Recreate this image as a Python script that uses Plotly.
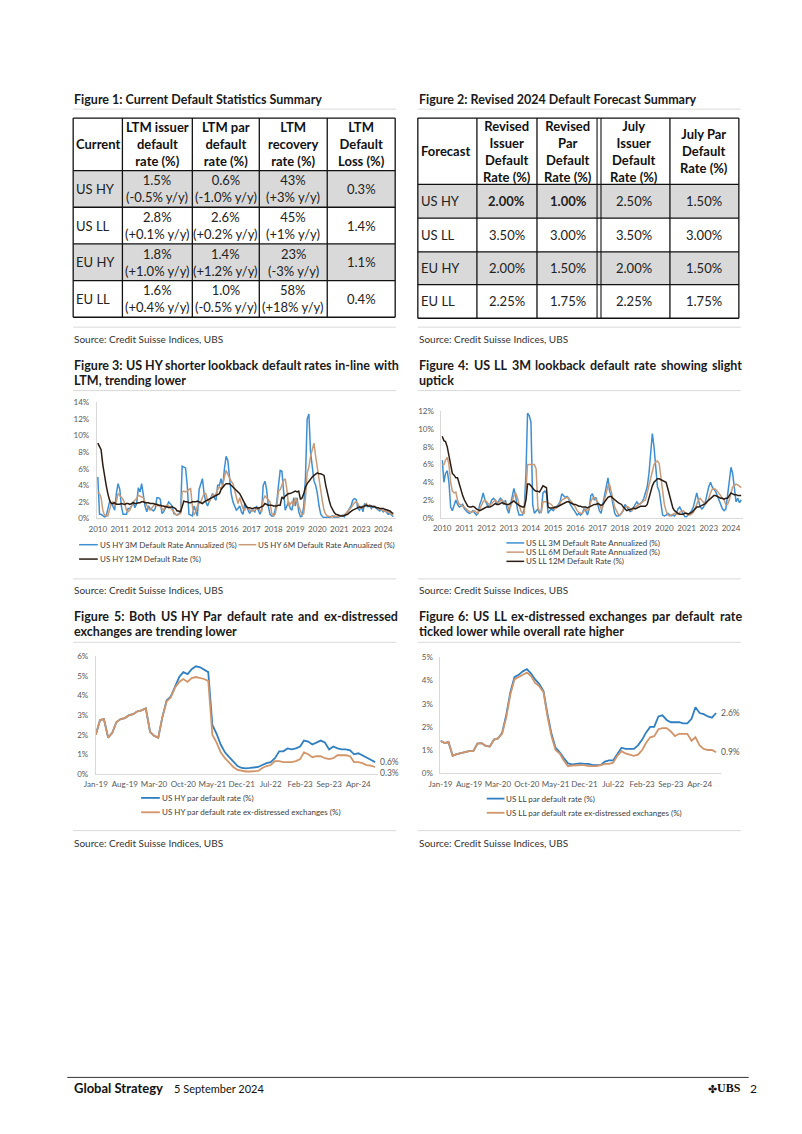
import pandas as pd
import plotly.graph_objects as go

PAGE_W, PAGE_H = 802, 1134
OFF = 8
W, H = PAGE_W - 2 * OFF, PAGE_H - 2 * OFF


def X(px):
    return (px - OFF) / W


def Y(py):
    return 1 - (py - OFF) / H


FONT = "Lato"
DARK = "#1a1a1a"
GREY_TXT = "#595959"
SEP = "#d9d9d9"

# ---------------- Table 1 data ----------------
t1_title = "Figure 1: Current Default Statistics Summary"
t1_cols = ["Current", "LTM issuer<br>default<br>rate (%)", "LTM par<br>default<br>rate (%)",
           "LTM<br>recovery<br>rate (%)", "LTM<br>Default<br>Loss (%)"]
t1_rows = ["US HY", "US LL", "EU HY", "EU LL"]
t1_issuer = ["1.5%", "2.8%", "1.8%", "1.6%"]
t1_issuer_yy = ["-0.5%", "+0.1%", "+1.0%", "+0.4%"]
t1_par = ["0.6%", "2.6%", "1.4%", "1.0%"]
t1_par_yy = ["-1.0%", "+0.2%", "+1.2%", "-0.5%"]
t1_recovery = ["43%", "45%", "23%", "58%"]
t1_recovery_yy = ["+3%", "+1%", "-3%", "+18%"]
t1_loss = ["0.3%", "1.4%", "1.1%", "0.4%"]

# ---------------- Table 2 data ----------------
t2_title = "Figure 2: Revised 2024 Default Forecast Summary"
t2_cols = ["Forecast", "Revised<br>Issuer<br>Default<br>Rate (%)", "Revised<br>Par<br>Default<br>Rate (%)",
           "July<br>Issuer<br>Default<br>Rate (%)", "July Par<br>Default<br>Rate (%)"]
t2_rows = ["US HY", "US LL", "EU HY", "EU LL"]
t2_rev_issuer = ["2.00%", "3.50%", "2.00%", "2.25%"]
t2_rev_par = ["1.00%", "3.00%", "1.50%", "1.75%"]
t2_jul_issuer = ["2.50%", "3.50%", "2.00%", "2.25%"]
t2_jul_par = ["1.50%", "3.00%", "1.50%", "1.75%"]

# ---------------- Figure 3: US HY (monthly, Jan-2010 .. Aug-2024) ----------------
hy_3m = [5.0, 0.5, 0.5, 0.3, 0.2, 0.3, 1.2, 2.0, 1.9, 1.5, 1.0, 3.0,
         4.2, 3.5, 1.5, 0.5, 0.5, 0.5, 1.2, 1.2, 1.5, 2.0, 1.3, 1.8,
         3.7, 3.2, 4.2, 2.5, 1.5, 0.8, 1.5, 1.2, 1.0, 0.9, 1.2, 2.5,
         2.5, 2.3, 0.6, 0.8, 1.2, 1.5, 2.0, 1.8, 1.5, 0.6, 0.5, 0.4,
         0.6, 0.8, 6.3, 6.2, 6.1, 4.0, 0.5, 0.4, 0.3, 1.5, 0.8, 0.3,
         3.5, 4.2, 4.8, 3.0, 2.0, 1.5, 2.0, 2.5, 3.0, 2.5, 2.2, 4.0,
         4.0, 4.8, 3.8, 6.0, 7.5, 7.0, 5.0, 3.0, 2.0, 1.5, 1.0, 1.2,
         1.5, 0.8, 0.5, 1.8, 1.5, 1.0, 0.6, 1.0, 1.0, 0.8, 1.5, 1.0,
         0.5, 1.0, 4.0, 4.5, 3.5, 1.5, 0.5, 0.3, 0.3, 1.0, 2.0, 4.0,
         5.8, 5.7, 3.0, 1.0, 1.5, 2.0, 1.2, 1.0, 2.5, 1.5, 2.5, 0.8,
         0.2, 0.3, 1.5, 5.0, 12.0, 12.6, 8.0, 6.0, 4.5, 4.0, 3.0, 1.5,
         0.5, 0.2, 0.1, 0.1, 0.2, 0.1, 0.2, 0.3, 0.1, 0.2, 0.1, 0.2,
         0.3, 0.4, 0.2, 0.5, 0.8, 1.2, 1.5, 2.2, 2.4, 2.3, 1.2, 1.0,
         1.5, 0.8, 1.8, 1.5, 1.4, 1.6, 1.2, 1.5, 1.4, 1.2, 1.0, 0.9,
         1.1, 0.8, 1.0, 0.7, 0.5, 0.6, 0.4, 0.2]
hy_6m = [3.2, 3.0, 2.5, 1.0, 0.4, 0.4, 0.3, 1.0, 1.8, 2.0, 1.5, 2.0,
         3.0, 2.8, 2.5, 2.3, 1.8, 1.0, 0.8, 1.0, 1.5, 2.0, 2.2, 2.4,
         2.8, 2.7, 2.6, 2.5, 2.0, 1.5, 1.2, 1.0, 1.3, 1.5, 1.8, 1.5,
         1.6, 1.4, 1.2, 1.0, 1.5, 1.6, 1.5, 1.3, 1.0, 0.8, 0.5, 0.4,
         0.5, 0.6, 3.2, 3.3, 3.2, 3.3, 3.5, 3.6, 1.5, 0.4, 0.8, 1.5,
         1.8, 2.0, 2.5, 3.0, 3.0, 2.2, 2.0, 2.5, 2.8, 2.7, 3.0, 3.5,
         3.8, 3.6, 4.0, 5.0, 5.8, 5.3, 4.8, 4.5, 4.2, 3.5, 2.5, 1.8,
         2.5, 1.8, 1.2, 1.0, 1.5, 1.3, 1.0, 0.9, 0.9, 1.0, 1.2, 1.3,
         1.0, 0.8, 2.3, 2.7, 2.5, 2.3, 2.0, 0.6, 0.3, 0.5, 1.5, 3.3,
         3.5, 4.0, 4.6, 4.8, 3.5, 1.5, 1.8, 2.0, 1.5, 2.5, 2.0, 1.5,
         1.0, 0.4, 0.6, 2.5, 5.5, 6.2, 7.5, 8.5, 9.1, 7.5, 6.0, 4.5,
         3.0, 2.0, 1.0, 0.5, 0.3, 0.2, 0.2, 0.2, 0.3, 0.2, 0.2, 0.3,
         0.3, 0.3, 0.4, 0.6, 0.9, 1.0, 1.3, 1.6, 1.9, 2.0, 1.8, 1.3,
         1.2, 1.5, 1.4, 1.8, 1.5, 1.6, 1.5, 1.4, 1.5, 1.3, 1.2, 1.1,
         1.0, 1.0, 0.9, 0.8, 0.8, 0.6, 0.5, 0.4]
hy_12m = [9.1, 8.6, 8.3, 6.5, 5.0, 4.0, 3.0, 2.2, 1.8, 1.8, 1.9, 1.7,
          1.7, 1.7, 1.8, 1.7, 1.7, 1.8, 1.8, 1.7, 1.8, 1.9, 1.8, 1.8,
          1.9, 1.9, 2.0, 2.0, 1.9, 1.9, 1.9, 1.8, 1.8, 1.8, 1.7, 1.7,
          1.6, 1.6, 1.5, 1.5, 1.4, 1.4, 1.3, 1.4, 1.4, 1.3, 1.2, 0.9,
          0.9, 0.8, 1.5, 2.1, 2.0, 2.0, 1.9, 1.9, 2.0, 2.0, 2.0, 2.1,
          2.0, 1.9, 1.8, 2.0, 2.1, 2.2, 2.4, 2.5, 2.6, 2.7, 2.8, 2.9,
          3.0, 3.5, 3.8, 4.0, 4.2, 4.2, 4.2, 4.0, 3.8, 3.6, 3.4, 3.2,
          3.0, 2.6, 2.2, 1.8, 1.4, 1.3, 1.3, 1.2, 1.2, 1.3, 1.3, 1.2,
          1.3, 1.4, 1.5, 1.8, 1.7, 1.6, 1.6, 1.6, 1.5, 1.5, 1.5, 1.6,
          1.6, 2.6, 2.4, 2.7, 2.9, 3.0, 3.0, 3.1, 3.2, 3.3, 3.2, 3.3,
          2.3, 2.5, 3.0, 3.8, 4.2, 4.5, 4.8, 5.0, 5.2, 5.4, 5.5, 5.4,
          5.4, 5.3, 5.2, 4.0, 3.0, 2.2, 1.5, 1.0, 0.7, 0.5, 0.4, 0.35,
          0.3, 0.3, 0.35, 0.4, 0.5, 0.7, 0.9, 1.0, 1.1, 1.2, 1.3, 1.4,
          1.3, 1.4, 1.5, 1.6, 1.5, 1.5, 1.5, 1.4, 1.4, 1.3, 1.3, 1.2,
          1.2, 1.2, 1.1, 1.0, 1.0, 0.9, 0.7, 0.6]

# ---------------- Figure 4: US LL (monthly, Jan-2010 .. Aug-2024) ----------------
ll_3m = [6.5, 4.0, 5.0, 5.3, 4.0, 1.2, 0.8, 1.5, 2.0, 1.5, 1.2, 1.3,
         1.5, 1.0, 0.8, 0.6, 0.5, 0.6, 0.8, 0.5, 0.3, 0.5, 1.5, 2.0,
         2.8, 2.0, 1.5, 1.2, 1.5, 2.0, 2.2, 2.0, 1.5, 1.8, 2.2, 2.0,
         1.5, 2.0, 1.0, 0.5, 1.5, 2.5, 3.3, 2.5, 1.0, 0.3, 0.3, 0.3,
         1.0, 5.0, 11.8, 11.5, 10.8, 1.5, 0.5, 0.8, 1.0, 0.5, 0.8, 2.8,
         3.0, 2.8, 0.5, 0.8, 1.0, 0.8, 1.0, 1.3, 1.5, 1.8, 2.7, 2.5,
         2.3, 2.4, 2.2, 1.5, 1.2, 0.8, 0.5, 0.3, 0.5, 0.3, 0.5, 1.0,
         0.8, 0.3, 1.0, 2.5, 2.7, 2.0, 2.3, 1.5, 0.8, 0.5, 1.5, 2.5,
         3.5, 4.5, 3.0, 2.5, 1.5, 0.5, 0.2, 0.2, 0.3, 0.5, 0.8, 1.5,
         1.2, 1.0, 0.7, 0.8, 1.2, 1.5, 1.8, 1.5, 1.6, 1.8, 2.2, 3.0,
         3.5, 5.0, 7.5, 9.5, 8.0, 5.5, 3.5, 3.0, 1.5, 0.3, 0.2, 0.3,
         0.5, 0.3, 0.2, 0.3, 0.2, 0.5, 1.0, 1.2, 0.8, 0.4, 0.1, 0.1,
         0.3, 0.5, 0.8, 1.2, 2.0, 2.8, 2.0, 1.2, 1.0, 1.2, 1.8, 2.8,
         3.5, 4.0, 3.5, 3.2, 3.0, 2.5, 2.0, 1.5, 1.0, 0.8, 1.0, 2.5,
         4.5, 5.7, 5.0, 3.5, 1.8, 2.2, 1.7, 2.0]
ll_6m = [6.0, 6.0, 6.5, 6.8, 6.0, 4.0, 3.0, 2.8, 2.9, 2.0, 1.5, 1.5,
         1.3, 1.2, 1.0, 0.8, 0.7, 0.6, 0.7, 0.8, 0.6, 0.5, 1.0, 1.4,
         1.8, 2.0, 1.8, 1.5, 1.4, 1.6, 1.8, 2.0, 1.8, 1.7, 1.9, 2.0,
         1.8, 1.6, 1.5, 1.0, 1.2, 1.8, 2.5, 2.8, 2.3, 1.5, 0.8, 0.5,
         0.5, 3.0, 6.0, 6.0, 6.0, 6.0, 6.0, 5.5, 1.2, 0.7, 0.6, 1.8,
         1.8, 1.8, 1.7, 1.6, 1.5, 1.2, 1.0, 1.1, 1.3, 1.6, 2.0, 2.1,
         2.2, 2.3, 2.2, 2.0, 1.8, 1.5, 1.2, 0.8, 0.6, 0.5, 0.5, 0.8,
         1.0, 0.8, 1.0, 1.8, 2.2, 2.3, 2.0, 1.8, 1.5, 1.0, 1.2, 2.0,
         3.0, 3.6, 3.8, 3.0, 2.0, 1.2, 0.8, 0.4, 0.3, 0.5, 1.0, 1.2,
         1.3, 1.2, 1.0, 0.8, 1.0, 1.2, 1.3, 1.5, 1.6, 1.8, 1.9, 2.0,
         2.8, 3.6, 4.5, 5.3, 6.0, 6.3, 6.4, 6.1, 4.5, 2.8, 1.5, 0.8,
         0.3, 0.2, 0.3, 0.4, 0.5, 0.4, 0.4, 0.6, 0.7, 0.8, 0.6, 0.4,
         0.3, 0.3, 0.4, 0.6, 1.0, 1.5, 2.0, 2.2, 2.0, 1.8, 1.5, 1.8,
         2.2, 2.8, 3.2, 3.3, 3.2, 3.0, 2.8, 2.5, 2.2, 2.0, 1.5, 1.5,
         2.0, 3.0, 3.5, 3.6, 3.8, 3.7, 3.5, 3.4]
ll_12m = [9.2, 8.7, 8.6, 8.0, 7.0, 6.0, 5.0, 4.8, 4.5, 4.5, 3.8, 3.0,
          2.5, 2.0, 1.6, 1.3, 1.2, 1.2, 1.3, 1.2, 1.0, 0.9, 0.8, 0.9,
          1.0, 1.1, 1.2, 1.2, 1.2, 1.3, 1.5, 1.6, 1.5, 1.5, 1.6, 1.7,
          1.6, 1.5, 1.5, 1.5, 1.6, 1.8, 1.9, 1.7, 1.5, 1.4, 1.3, 1.2,
          1.2, 2.0, 3.8, 3.8, 3.6, 3.3, 3.1, 3.0, 3.0, 2.9, 3.2, 3.6,
          3.5, 3.4, 1.2, 1.1, 1.1, 1.1, 1.2, 1.2, 1.3, 1.4, 1.5, 1.6,
          1.7, 1.8, 1.8, 1.7, 1.6, 1.5, 1.5, 1.4, 1.3, 1.3, 1.2, 1.2,
          1.2, 1.1, 1.2, 1.3, 1.4, 1.5, 1.5, 1.6, 1.5, 1.4, 1.5, 1.8,
          2.1, 2.3, 2.4, 2.4, 2.2, 2.0, 1.8, 1.7, 1.6, 1.5, 1.2, 1.0,
          0.8, 0.9, 0.9, 1.0, 1.1, 1.0, 1.1, 1.2, 1.3, 1.3, 1.3, 1.3,
          1.5, 2.2, 3.0, 3.6, 4.0, 4.2, 4.4, 4.4, 4.3, 4.2, 4.1, 4.0,
          3.3, 2.5, 1.6, 1.1, 0.8, 0.6, 0.5, 0.4, 0.4, 0.4, 0.5, 0.5,
          0.4, 0.5, 0.6, 0.8, 1.0, 1.2, 1.2, 1.3, 1.4, 1.5, 1.6, 1.8,
          2.0, 2.1, 2.3, 2.5, 2.5, 2.4, 2.3, 2.2, 2.2, 2.1, 2.2, 2.2,
          2.5, 2.8, 2.7, 2.6, 2.6, 2.5, 2.5, 2.5]

# ---------------- Figure 5: US HY par (monthly, Jan-2019 .. Aug-2024) ----------------
hy_par = [2.0, 2.75, 2.8, 1.85, 2.1, 2.65, 2.8, 2.85, 3.0, 3.05, 3.2, 3.25,
          3.35, 2.15, 1.95, 1.85, 2.9, 3.75, 3.95, 4.5, 4.95, 5.2, 5.1, 5.35,
          5.5, 5.45, 5.35, 5.2, 2.5, 2.05, 1.5, 1.1, 0.85, 0.6, 0.4, 0.3,
          0.28, 0.3, 0.32, 0.35, 0.45, 0.55, 0.6, 0.8, 1.15, 1.15, 1.3, 1.25,
          1.3, 1.4, 1.7, 1.65, 1.5, 1.6, 1.7, 1.6, 1.25, 1.4, 1.3, 1.25,
          1.25, 1.2, 1.0, 1.05, 0.95, 0.85, 0.72, 0.6]
hy_par_exd = [2.0, 2.75, 2.8, 1.85, 2.1, 2.65, 2.8, 2.85, 3.0, 3.05, 3.2, 3.25,
              3.35, 2.15, 1.95, 1.85, 2.9, 3.7, 3.9, 4.4, 4.7, 4.85, 4.7, 4.9,
              4.95, 4.9, 4.85, 4.75, 2.0, 1.6, 1.1, 0.8, 0.55, 0.35, 0.2, 0.15,
              0.12, 0.12, 0.12, 0.15, 0.3, 0.4, 0.45, 0.65, 0.65, 0.6, 0.6, 0.6,
              0.65, 0.75, 1.1, 1.0, 0.85, 0.9, 0.9, 0.8, 0.75, 0.8, 0.95, 0.95,
              0.95, 0.9, 0.6, 0.6, 0.55, 0.45, 0.42, 0.35]

# ---------------- Figure 6: US LL par (monthly, Jan-2019 .. Aug-2024) ----------------
ll_par = [1.4, 1.3, 1.35, 0.75, 0.82, 0.87, 0.9, 0.95, 0.95, 1.28, 1.3, 1.18,
          1.15, 1.45, 1.5, 1.75, 2.5, 3.5, 4.15, 4.25, 4.4, 4.5, 4.3, 4.05,
          3.85, 3.55, 2.6, 1.7, 1.1, 0.9, 0.65, 0.42, 0.38, 0.4, 0.42, 0.4,
          0.4, 0.35, 0.35, 0.35, 0.5, 0.55, 0.55, 0.8, 1.1, 1.05, 1.05, 1.05,
          1.2, 1.45, 1.75, 2.0, 2.0, 2.45, 2.5, 2.3, 2.2, 2.2, 2.2, 2.15,
          2.15, 2.35, 2.85, 2.6, 2.55, 2.45, 2.4, 2.6]
ll_par_exd = [1.4, 1.3, 1.35, 0.75, 0.82, 0.87, 0.9, 0.95, 0.95, 1.28, 1.3, 1.18,
              1.15, 1.45, 1.5, 1.7, 2.4, 3.4, 4.05, 4.15, 4.25, 4.35, 4.2, 3.9,
              3.75, 3.5, 2.5, 1.6, 1.0, 0.85, 0.55, 0.3, 0.33, 0.35, 0.35, 0.35,
              0.3, 0.3, 0.3, 0.35, 0.4, 0.4, 0.45, 0.75, 0.95, 0.85, 0.8, 0.75,
              0.8, 1.0, 1.3, 1.55, 1.6, 1.9, 1.95, 1.95, 1.8, 1.6, 1.7, 1.7,
              1.7, 1.4, 1.55, 1.2, 1.05, 1.0, 1.0, 0.9]

dates_long = pd.date_range("2010-01-01", periods=len(hy_3m), freq="MS")
dates_short = pd.date_range("2019-01-01", periods=len(hy_par), freq="MS")
long_ticks = dates_long[::13]
long_ticktext = [str(d.year) for d in long_ticks]
short_ticks = dates_short[::7]

C_BLUE = "#3d8fd1"
C_TAN = "#c99a78"
C_BLACK = "#2b1d14"
C_BLUE2 = "#2f7fc1"
C_TAN2 = "#d29469"

fig = go.Figure()
shapes = []
ann = []


def hline(x0, x1, y, color=SEP, width=1):
    shapes.append(dict(type="line", xref="paper", yref="paper", x0=X(x0), x1=X(x1),
                       y0=Y(y), y1=Y(y), line=dict(color=color, width=width)))


def vline(x, y0, y1, color="#000", width=1.2):
    shapes.append(dict(type="line", xref="paper", yref="paper", x0=X(x), x1=X(x),
                       y0=Y(y0), y1=Y(y1), line=dict(color=color, width=width)))


def text(x, y, s, size=12, color=DARK, bold=False, xanchor="left", align="left", family=FONT):
    if bold:
        s = "<b>" + s + "</b>"
    ann.append(dict(xref="paper", yref="paper", x=X(x), y=Y(y), text=s, showarrow=False,
                    xanchor=xanchor, yanchor="middle", align=align, borderpad=0,
                    font=dict(family=family, size=size, color=color)))


# approximate advance widths (em) of a bold humanist sans, used to justify title lines
EM = {c: .58 for c in "bdhnopqu0123456789"}
EM.update({"a": .53, "c": .47, "e": .54, "f": .34, "g": .52, "i": .26, "j": .26, "k": .53,
           "l": .26, "m": .87, "r": .38, "s": .44, "t": .36, "v": .52, "w": .79, "x": .52,
           "y": .52, "z": .46, "A": .68, "B": .64, "C": .65, "D": .73, "E": .56, "F": .54,
           "G": .71, "H": .74, "I": .29, "L": .51, "M": .89, "P": .62, "R": .64, "S": .55,
           "T": .6, "U": .71, "Y": .63, ":": .26, "-": .35, ",": .24, ".": .24, "%": .8})


def word_w(w, size):
    return sum(EM.get(ch, .55) for ch in w) * size


def justified(line, x0, x1, y, size):
    words = line.split(" ")
    widths = [word_w(w, size) for w in words]
    gap = (x1 - x0 - sum(widths)) / (len(words) - 1)
    x = x0
    for w, ww in zip(words, widths):
        text(x, y, w, size=size, bold=True)
        x += ww + gap


HDR, CELL = 13, 13


def draw_table(xe, ye, header, body, shaded, bold_cells, double_x=None):
    for r in shaded:
        shapes.append(dict(type="rect", xref="paper", yref="paper", layer="below",
                           x0=X(xe[0]), x1=X(xe[-1]), y0=Y(ye[r + 1]), y1=Y(ye[r + 2]),
                           fillcolor="#d9d9d9", line=dict(width=0)))
    for y in ye:
        hline(xe[0], xe[-1], y, color="#111", width=1.3)
    for i, x in enumerate(xe):
        if double_x is not None and i == double_x:
            vline(x - 2, ye[0], ye[-1], color="#111", width=1.1)
            vline(x + 2, ye[0], ye[-1], color="#111", width=1.1)
        else:
            vline(x, ye[0], ye[-1], color="#111", width=1.3)
    hy = (ye[0] + ye[1]) / 2
    for c, h in enumerate(header):
        if c == 0:
            text(xe[0] + 2, hy, h, size=HDR, bold=True, color="#111")
        else:
            text((xe[c] + xe[c + 1]) / 2, hy, h, size=HDR, bold=True, color="#111",
                 xanchor="center", align="center")
    for r, row in enumerate(body):
        cy = (ye[r + 1] + ye[r + 2]) / 2
        for c, v in enumerate(row):
            b = (r, c) in bold_cells
            if c == 0:
                text(xe[0] + 2, cy, v, size=CELL, color="#222")
            else:
                text((xe[c] + xe[c + 1]) / 2, cy, v, size=CELL, color="#222", bold=b,
                     xanchor="center", align="center")


# ---- Table 1 ----
t1_body = []
for i in range(len(t1_rows)):
    t1_body.append([t1_rows[i],
                    f"{t1_issuer[i]}<br>({t1_issuer_yy[i]} y/y)",
                    f"{t1_par[i]}<br>({t1_par_yy[i]} y/y)",
                    f"{t1_recovery[i]}<br>({t1_recovery_yy[i]} y/y)",
                    t1_loss[i]])
draw_table([62, 112, 183, 251, 320, 389], [114, 167, 204, 241, 278, 315],
           t1_cols, t1_body, shaded=[0, 2], bold_cells=set())

# ---- Table 2 ----
t2_body = []
for i in range(len(t2_rows)):
    t2_body.append([t2_rows[i], t2_rev_issuer[i], t2_rev_par[i], t2_jul_issuer[i], t2_jul_par[i]])
draw_table([412, 472, 533, 596, 668, 738], [114, 181, 215, 249, 282, 316],
           t2_cols, t2_body, shaded=[0, 2], bold_cells={(0, 1), (0, 2)}, double_x=3)

# ---- titles ----
TS = 12.5
text(62, 95, t1_title, size=TS, bold=True)
text(412, 95, t2_title, size=TS, bold=True)
justified("Figure 3: US HY shorter lookback default rates in-line with", 62, 391, 364, TS)
justified("Figure 4: US LL 3M lookback default rate showing slight", 412, 740, 364, TS)
justified("Figure 5: Both US HY Par default rate and ex-distressed", 62, 390, 617, TS)
justified("Figure 6: US LL ex-distressed exchanges par default rate", 412, 740, 617, TS)
text(62, 378.5, "LTM, trending lower", size=TS, bold=True)
text(412, 378.5, "uptick", size=TS, bold=True)
text(62, 632, "exchanges are trending lower", size=TS, bold=True)
text(412, 632, "ticked lower while overall rate higher", size=TS, bold=True)

for y in (105, 389, 643):
    hline(62, 390, y)
    hline(412, 740, y)
for y in (325, 579, 833):
    hline(62, 390, y)
    hline(412, 740, y)
for y in (336.5, 590, 845):
    text(62, y, "Source: Credit Suisse Indices, UBS", size=10, color="#333")
    text(412, y, "Source: Credit Suisse Indices, UBS", size=10, color="#333")

# ---- footer ----
hline(56, 748, 1082, color="#333", width=1)
text(62, 1093, "<b>Global Strategy</b>", size=13, color="#111")
text(163, 1093, "5 September 2024", size=11, color="#111")
text(741, 1093, "<b>UBS</b>", size=12, color="#111", xanchor="right", family="Liberation Serif")
text(717, 1093, "✤", size=11, color="#111", xanchor="right")
text(748, 1093, "2", size=12, color="#111")

# ---------------- charts ----------------
LW = 1.5
fig.add_trace(go.Scatter(x=dates_long, y=hy_3m, mode="lines", line=dict(color=C_BLUE, width=LW), xaxis="x", yaxis="y"))
fig.add_trace(go.Scatter(x=dates_long, y=hy_6m, mode="lines", line=dict(color=C_TAN, width=LW), xaxis="x", yaxis="y"))
fig.add_trace(go.Scatter(x=dates_long, y=hy_12m, mode="lines", line=dict(color=C_BLACK, width=LW), xaxis="x", yaxis="y"))

fig.add_trace(go.Scatter(x=dates_long, y=ll_3m, mode="lines", line=dict(color=C_BLUE, width=LW), xaxis="x2", yaxis="y2"))
fig.add_trace(go.Scatter(x=dates_long, y=ll_6m, mode="lines", line=dict(color=C_TAN, width=LW), xaxis="x2", yaxis="y2"))
fig.add_trace(go.Scatter(x=dates_long, y=ll_12m, mode="lines", line=dict(color=C_BLACK, width=LW), xaxis="x2", yaxis="y2"))

fig.add_trace(go.Scatter(x=dates_short, y=hy_par, mode="lines", line=dict(color=C_BLUE2, width=1.8), xaxis="x3", yaxis="y3"))
fig.add_trace(go.Scatter(x=dates_short, y=hy_par_exd, mode="lines", line=dict(color=C_TAN2, width=1.8), xaxis="x3", yaxis="y3"))

fig.add_trace(go.Scatter(x=dates_short, y=ll_par, mode="lines", line=dict(color=C_BLUE2, width=1.8), xaxis="x4", yaxis="y4"))
fig.add_trace(go.Scatter(x=dates_short, y=ll_par_exd, mode="lines", line=dict(color=C_TAN2, width=1.8), xaxis="x4", yaxis="y4"))

tickfont = dict(family=FONT, size=8, color=GREY_TXT)


def xax(dom, rng, tickvals, ticktext=None, fmt=None, anchor="y"):
    d = dict(domain=[X(dom[0]), X(dom[1])], range=rng, anchor=anchor, type="date",
             showgrid=False, zeroline=False, showline=True, linecolor="#d9d9d9", linewidth=1,
             ticks="", tickvals=tickvals, tickfont=tickfont, ticklabelstandoff=3, tickangle=0)
    if ticktext is not None:
        d["ticktext"] = ticktext
    if fmt is not None:
        d["tickformat"] = fmt
    return d


def yax(dom, rng, dtick, anchor="x"):
    return dict(domain=[Y(dom[1]), Y(dom[0])], range=rng, anchor=anchor, dtick=dtick,
                ticksuffix="%", showgrid=False, zeroline=False, showline=True,
                linecolor="#d9d9d9", linewidth=1, ticks="", tickfont=tickfont, ticklabelstandoff=5)


layout_axes = dict(
    xaxis=xax((86, 390), ["2009-12-14", "2024-09-21"], list(long_ticks), long_ticktext, anchor="y"),
    yaxis=yax((401, 518), [0, 14], 2, anchor="x"),
    xaxis2=xax((436, 742), ["2009-12-19", "2024-08-29"], list(long_ticks), long_ticktext, anchor="y2"),
    yaxis2=yax((410, 517.3), [0, 12], 2, anchor="x2"),
    xaxis3=xax((85, 372), ["2019-01-01", "2024-08-26"], list(short_ticks), fmt="%b-%y", anchor="y3"),
    yaxis3=yax((657.3, 775.7), [0, 6], 1, anchor="x3"),
    xaxis4=xax((435, 720), ["2019-01-01", "2024-09-07"], list(short_ticks), fmt="%b-%y", anchor="y4"),
    yaxis4=yax((658.3, 775), [0, 5], 1, anchor="x4"),
)


def end_label(xref, yref, xv, yv, yshift=0):
    ann.append(dict(xref=xref, yref=yref, x=xv, y=yv, text=f"{yv:.1f}%", showarrow=False,
                    xanchor="left", yanchor="middle", xshift=3, yshift=yshift,
                    font=dict(family=FONT, size=8.5, color=GREY_TXT)))


end_label("x3", "y3", dates_short[-1], hy_par[-1])
end_label("x3", "y3", dates_short[-1], hy_par_exd[-1], yshift=-6)
end_label("x4", "y4", dates_short[-1], ll_par[-1])
end_label("x4", "y4", dates_short[-1], ll_par_exd[-1])

LEG = 8


def legend_item(x0, x1, y, color, label, lw=1.5):
    shapes.append(dict(type="line", xref="paper", yref="paper", x0=X(x0), x1=X(x1), y0=Y(y), y1=Y(y),
                       line=dict(color=color, width=lw)))
    text(x1 + 1, y, label, size=LEG, color="#404040")


legend_item(68, 87, 544.5, C_BLUE, "US HY 3M Default Rate Annualized (%)")
legend_item(230, 248, 544.5, C_TAN, "US HY 6M Default Rate Annualized (%)")
legend_item(68, 87, 559, C_BLACK, "US HY 12M Default Rate (%)")
legend_item(502, 520, 542.7, C_BLUE, "US LL 3M Default Rate Annualized (%)")
legend_item(502, 520, 552, C_TAN, "US LL 6M Default Rate Annualized (%)")
legend_item(502, 520, 561.3, C_BLACK, "US LL 12M Default Rate (%)")
legend_item(131, 150, 800, C_BLUE2, "US HY par default rate (%)", 1.8)
legend_item(131, 150, 814.5, C_TAN2, "US HY par default rate ex-distressed exchanges (%)", 1.8)
legend_item(482, 500, 800.7, C_BLUE2, "US LL par default rate (%)", 1.8)
legend_item(482, 500, 815, C_TAN2, "US LL par default rate ex-distressed exchanges (%)", 1.8)

fig.update_layout(
    width=W, height=H, margin=dict(l=0, r=0, t=0, b=0, pad=0),
    paper_bgcolor="white", plot_bgcolor="white", showlegend=False,
    font=dict(family=FONT, color=DARK),
    shapes=shapes, annotations=ann, **layout_axes,
)

fig.write_html("out.html", config={"displayModeBar": False})
